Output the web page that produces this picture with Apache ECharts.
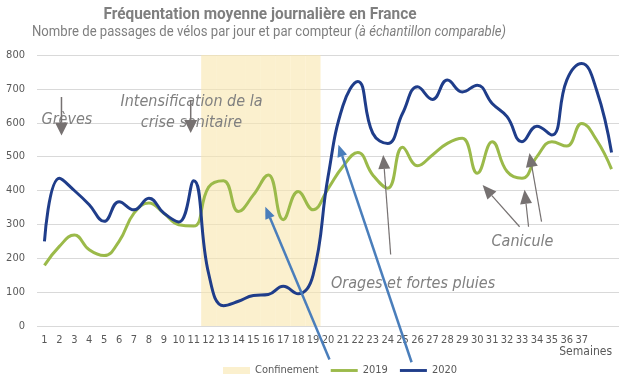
<!DOCTYPE html>
<html><head><meta charset="utf-8">
<script src="https://cdn.jsdelivr.net/npm/echarts@6/dist/echarts.min.js"></script>
<style>html,body{margin:0;padding:0;background:#fff}#c{width:632px;height:378px}</style>
</head><body><div id="c"></div>
<script>
const weeks = ['1','2','3','4','5','6','7','8','9','10','11','12','13','14','15','16','17','18','19','20','21','22','23','24','25','26','27','28','29','30','31','32','33','34','35','36','37','38','39'];
const tickLabels = ['1','2','3','4','5','6','7','8','9','10','11','12','13','14','15','16','17','18','19','20','21','22','23','24','25','26','27','28','29','30','31','32','33','34','35','36','37','',''];
const v2019 = [179,235,269,225,208,250,333,363,333,299,295,410,429,338,387,446,314,397,343,405,471,512,446,407,528,473,505,539,554,451,544,456,436,500,544,531,598,549,463];
const v2020 = [250,436,400,358,309,367,343,377,333,307,429,155,60,73,90,93,117,95,150,440,650,722,569,539,628,706,669,726,691,711,657,618,544,590,564,726,775,696,512];
const confinementStart = 12, confinementEnd = 19;
const yTicks = [0,100,200,300,400,500,600,700,800];

const FONT = "'Liberation Sans Narrow','DejaVu Sans Condensed',Roboto,sans-serif";
const TFONT = "Roboto,sans-serif";
const confData = weeks.map((w,i)=> (i+1>=confinementStart && i+1<=confinementEnd) ? yTicks[yTicks.length-1] : '-');

const chart = echarts.init(document.getElementById('c'));
chart.setOption({
  animation:false,
  textStyle:{fontFamily:FONT},
  grid:{left:37,right:13,top:55,bottom:52,containLabel:false},
  legend:{left:218, top:360, itemWidth:27, itemHeight:7, itemGap:12, symbolKeepAspect:true,
    textStyle:{fontFamily:FONT,fontSize:11,color:'#595959'},
    data:[{name:'Confinement',icon:'rect'},
          {name:'2019',icon:'path://M0,0H28V3H0Z'},
          {name:'2020',icon:'path://M0,0H28V3H0Z'}]},
  xAxis:{type:'category', data:weeks, boundaryGap:true,
    axisLine:{show:false}, axisTick:{show:false},
    axisLabel:{interval:0, margin:9, fontFamily:FONT, fontSize:11, color:'#595959',
      formatter:(v,i)=>tickLabels[i]}},
  yAxis:{type:'value', min:yTicks[0], max:yTicks[yTicks.length-1], interval:100,
    axisLabel:{margin:12, fontFamily:FONT, fontSize:11, color:'#595959'},
    splitLine:{lineStyle:{color:'#d9d9d9',width:1}}},
  series:[
    {name:'Confinement', type:'bar', data:confData, barCategoryGap:'0%', barGap:'0%',
     itemStyle:{color:'#f8e6ad', opacity:0.6}, z:1, silent:true},
    {name:'2019', type:'line', data:v2019, smooth:0.45, symbol:'none',
     lineStyle:{color:'#9bba4a',width:3}, itemStyle:{color:'#9bba4a'}, z:3},
    {name:'2020', type:'line', data:v2020, smooth:0.45, symbol:'none',
     lineStyle:{color:'#1f3d8a',width:3}, itemStyle:{color:'#1f3d8a'}, z:4}
  ]
});

function px(w, v){
  const a = chart.convertToPixel({xAxisIndex:0}, weeks[0]);
  const b = chart.convertToPixel({xAxisIndex:0}, weeks[weeks.length-1]);
  const y = chart.convertToPixel({yAxisIndex:0}, v);
  return [a + (w-1)*(b-a)/(weeks.length-1), y];
}
function arrow(from, to, color, lw, hl, hw){
  const p0 = px(from[0], from[1]), p1 = px(to[0], to[1]);
  const dx = p1[0]-p0[0], dy = p1[1]-p0[1], L = Math.hypot(dx,dy);
  const ux = dx/L, uy = dy/L;
  const bx = p1[0]-ux*hl, by = p1[1]-uy*hl;
  return [
    {type:'line', shape:{x1:p0[0],y1:p0[1],x2:bx,y2:by}, style:{stroke:color,lineWidth:lw}, z:10},
    {type:'polygon', shape:{points:[[p1[0],p1[1]],[bx - uy*hw/2, by + ux*hw/2],[bx + uy*hw/2, by - ux*hw/2]]}, style:{fill:color}, z:10}
  ];
}
function label(w, v, text, align){
  const p = px(w, v);
  return {type:'text', x:p[0], y:p[1], z:10, style:{text:text, fill:'#808080', font:'italic 16px '+FONT, textAlign:align||'left', textVerticalAlign:'middle'}};
}
// condensed look for titles: measure and squeeze horizontally to the reference width
const ctx = document.createElement('canvas').getContext('2d');
function measure(parts){ let w=0; parts.forEach(p=>{ctx.font=p[1]; w+=ctx.measureText(p[0]).width;}); return w; }
const titleText = 'Fréquentation moyenne journalière en France';
const subA = 'Nombre de passages de vélos par jour et par compteur ', subB = '(à échantillon comparable)';
const tFont = 'bold 16px '+TFONT, sFont = '14px '+TFONT, sIFont = 'italic 14px '+TFONT;
const tScale = 313 / measure([[titleText,tFont]]);
const sScale = 474 / measure([[subA,sFont],[subB,sIFont]]);

const gray = '#767171', blue = '#4a7ebb';
let els = [];
els.push({type:'text', x:260, y:15, scaleX:tScale, z:10, style:{text:titleText, fill:'#7f7f7f', font:tFont, textAlign:'center', textVerticalAlign:'middle'}});
els.push({type:'text', x:269, y:32, scaleX:sScale, z:10, style:{text:subA+'{i|'+subB+'}', fill:'#7f7f7f', font:sFont, textAlign:'center', textVerticalAlign:'middle',
   rich:{i:{fontStyle:'italic', fontSize:14, fontFamily:TFONT, fill:'#7f7f7f'}}}});
els.push(label(0.8, 608, 'Grèves'));
els = els.concat(arrow([2.14, 676],[2.14, 562], gray, 1.5, 13, 13));
els.push(label(10.85, 661, 'Intensification de la', 'center'));
els.push(label(10.85, 599, 'crise sanitaire', 'center'));
els = els.concat(arrow([10.8, 667],[10.8, 570], gray, 1.5, 13, 13));
els.push(label(20.2, 125, 'Orages et fortes pluies'));
els = els.concat(arrow([24.2, 211],[23.7, 505], gray, 1.2, 14, 12));
els.push(label(30.96, 249, 'Canicule'));
els = els.concat(arrow([32.84, 293],[30.36, 416], gray, 1.2, 14, 12));
els = els.concat(arrow([33.44, 293],[33.17, 402], gray, 1.2, 14, 12));
els = els.concat(arrow([34.31, 308],[33.5, 511], gray, 1.2, 14, 12));
els = els.concat(arrow([20.1, -99],[15.8, 352], blue, 2.5, 12, 10));
els = els.concat(arrow([25.6, -107],[20.7, 535], blue, 2.5, 12, 10));
els.push({type:'text', x:612, y:352, z:10, style:{text:'Semaines', fill:'#595959', font:'12px '+FONT, textAlign:'right', textVerticalAlign:'middle'}});
chart.setOption({graphic:{elements:els}});
</script></body></html>
